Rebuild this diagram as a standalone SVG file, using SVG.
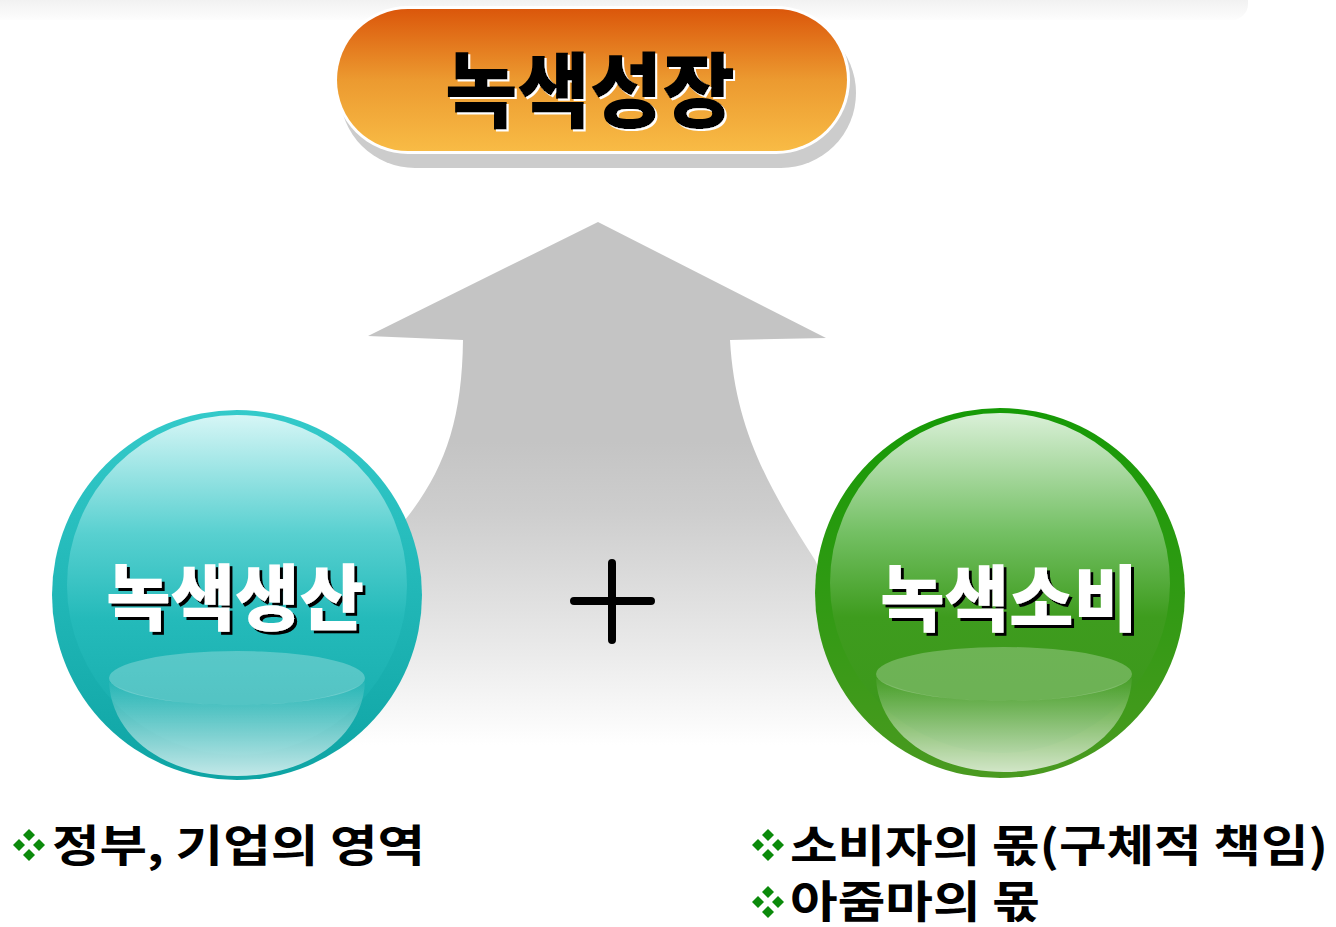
<svg xmlns="http://www.w3.org/2000/svg" width="1336" height="927" viewBox="0 0 1336 927">
<defs>
<linearGradient id="band" x1="0" y1="0" x2="0" y2="1"><stop offset="0" stop-color="#e6e6e6"/><stop offset="1" stop-color="#fdfdfd"/></linearGradient>
<linearGradient id="pill" x1="0" y1="0" x2="0" y2="1"><stop offset="0" stop-color="#db570b"/><stop offset="0.5" stop-color="#ec9a30"/><stop offset="1" stop-color="#f8bb45"/></linearGradient>
<linearGradient id="arrow" gradientUnits="userSpaceOnUse" x1="0" y1="222" x2="0" y2="745"><stop offset="0" stop-color="#c4c4c4"/><stop offset="0.42" stop-color="#c4c4c4"/><stop offset="0.55" stop-color="#cdcdcd"/><stop offset="0.8" stop-color="#e8e8e8"/><stop offset="1" stop-color="#ffffff"/></linearGradient>
<linearGradient id="tealRing" x1="0" y1="0" x2="0" y2="1"><stop offset="0" stop-color="#34caca"/><stop offset="1" stop-color="#0ea4a4"/></linearGradient>
<linearGradient id="tealIn" x1="0" y1="0" x2="0" y2="1"><stop offset="0" stop-color="#d6f6f6"/><stop offset="0.35" stop-color="#58d0d0"/><stop offset="0.6" stop-color="#24baba"/><stop offset="1" stop-color="#14aaaa"/></linearGradient>
<linearGradient id="greenRing" x1="0" y1="0" x2="0" y2="1"><stop offset="0" stop-color="#169a06"/><stop offset="1" stop-color="#4a9a20"/></linearGradient>
<linearGradient id="greenIn" x1="0" y1="0" x2="0" y2="1"><stop offset="0" stop-color="#daf0d8"/><stop offset="0.35" stop-color="#74c064"/><stop offset="0.6" stop-color="#3e9c1e"/><stop offset="1" stop-color="#3c961a"/></linearGradient>
<linearGradient id="bowl" x1="0" y1="0" x2="0" y2="1"><stop offset="0" stop-color="#ffffff" stop-opacity="0.05"/><stop offset="1" stop-color="#ffffff" stop-opacity="0.75"/></linearGradient>
<filter id="whiteShadow" x="-10%" y="-20%" width="120%" height="140%"><feDropShadow dx="2" dy="2" stdDeviation="0" flood-color="#ffffff" flood-opacity="1"/></filter>
<filter id="blackShadow" x="-10%" y="-20%" width="120%" height="140%"><feDropShadow dx="3" dy="3" stdDeviation="0" flood-color="#000000" flood-opacity="1"/></filter>
<symbol id="bullet" viewBox="0 0 32 32">
<polygon points="16,0 22,6 16,12 10,6" fill="#0b8a0b"/>
<polygon points="6,10 12,16 6,22 0,16" fill="#0b8a0b"/>
<polygon points="26,10 32,16 26,22 20,16" fill="#0b8a0b"/>
<polygon points="16,20 22,26 16,32 10,26" fill="#0b8a0b"/>
</symbol>
</defs>
<style>
.title{font-family:"Noto Sans CJK KR","Noto Sans",sans-serif;font-weight:900;}
.body{font-family:"Noto Sans CJK KR","Noto Sans",sans-serif;font-weight:700;font-size:44px;fill:#000;}
</style>
<rect x="-20" y="-20" width="1268" height="40" rx="16" fill="url(#band)"/>

<g id="arrow-shape">
<path d="M598,222 L368,336 L463,340 C462,420 445,470 405,520 L300,745 L900,745 L815,560 C770,490 735,430 730,340 L826,338 Z" fill="url(#arrow)"/>
</g>

<g id="node-growth">
<rect x="340" y="18" width="516" height="150" rx="75" fill="#cccccc"/>
<rect x="334" y="6" width="516" height="148" rx="74" fill="#ffffff"/>
<rect x="337" y="9" width="510" height="142" rx="71" fill="url(#pill)"/>
<text class="title" x="590" y="121" font-size="82" text-anchor="middle" textLength="290" lengthAdjust="spacingAndGlyphs" fill="#000000" filter="url(#whiteShadow)">녹색성장</text>
</g>

<g id="node-production">
<circle cx="237" cy="595" r="185" fill="url(#tealRing)"/>
<circle cx="237" cy="585" r="170" fill="url(#tealIn)"/>
<ellipse cx="237" cy="678" rx="128" ry="27" fill="#ffffff" fill-opacity="0.25"/>
<path d="M109,682 C112,740 170,776 237,776 C304,776 362,740 365,682 C340,698 290,705 237,705 C184,705 134,698 109,682 Z" fill="url(#bowl)"/>
<text class="title" x="235" y="624" font-size="72" text-anchor="middle" textLength="258" lengthAdjust="spacingAndGlyphs" fill="#ffffff" filter="url(#blackShadow)">녹색생산</text>
</g>

<g id="node-consumption">
<circle cx="1000" cy="593" r="185" fill="url(#greenRing)"/>
<circle cx="1000" cy="583" r="170" fill="url(#greenIn)"/>
<ellipse cx="1004" cy="674" rx="128" ry="27" fill="#ffffff" fill-opacity="0.25"/>
<path d="M876,678 C879,736 937,772 1004,772 C1071,772 1129,736 1132,678 C1107,694 1057,701 1004,701 C951,701 901,694 876,678 Z" fill="url(#bowl)"/>
<text class="title" x="1009" y="625" font-size="72" text-anchor="middle" textLength="258" lengthAdjust="spacingAndGlyphs" fill="#ffffff" filter="url(#blackShadow)">녹색소비</text>
</g>

<g id="connectors">
<path d="M574,601 H651 M612,563 V640" stroke="#000" stroke-width="8" stroke-linecap="round" fill="none"/>
</g>

<g id="label-left">
<use href="#bullet" x="13" y="829" width="32" height="32"/>
<text class="body" x="52" y="862" textLength="373" lengthAdjust="spacingAndGlyphs">정부, 기업의 영역</text>
</g>
<g id="label-right">
<use href="#bullet" x="752" y="829" width="32" height="32"/>
<text class="body" x="790" y="862" textLength="538" lengthAdjust="spacingAndGlyphs">소비자의 몫(구체적 책임)</text>
<use href="#bullet" x="752" y="886" width="32" height="32"/>
<text class="body" x="790" y="918" textLength="250" lengthAdjust="spacingAndGlyphs">아줌마의 몫</text>
</g>
</svg>
